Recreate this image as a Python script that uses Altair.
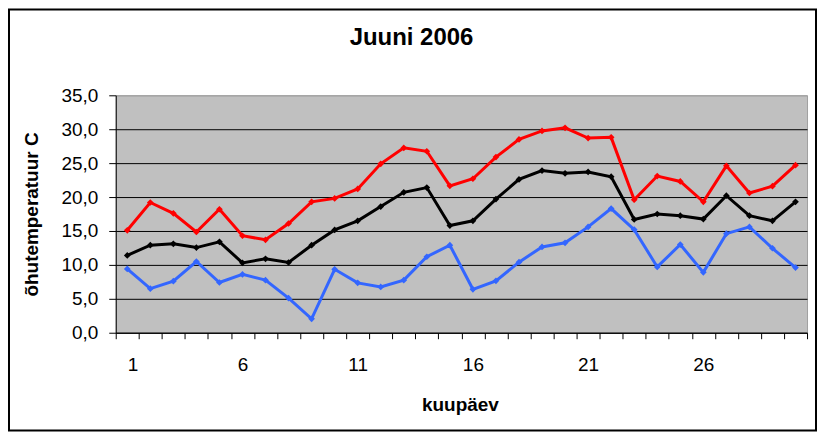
import altair as alt
import pandas as pd

days = list(range(1, 31))
t_max = [15.1, 19.2, 17.6, 14.85, 18.2, 14.3, 13.7, 16.1, 19.3, 19.8,
         21.2, 24.9, 27.25, 26.75, 21.65, 22.7, 25.9, 28.5, 29.75, 30.2,
         28.7, 28.8, 19.6, 23.1, 22.3, 19.3, 24.6, 20.6, 21.6, 24.7]
t_avg = [11.4, 12.9, 13.1, 12.55, 13.4, 10.3, 10.9, 10.35, 12.9, 15.15,
         16.5, 18.6, 20.7, 21.4, 15.8, 16.5, 19.7, 22.6, 23.9, 23.5,
         23.7, 23.0, 16.7, 17.5, 17.25, 16.75, 20.2, 17.25, 16.5, 19.3]
t_min = [9.4, 6.5, 7.6, 10.5, 7.4, 8.6, 7.75, 5.1, 2.05, 9.35,
         7.35, 6.75, 7.75, 11.2, 12.9, 6.4, 7.65, 10.4, 12.65, 13.25,
         15.6, 18.3, 15.2, 9.7, 13.0, 8.9, 14.6, 15.6, 12.45, 9.6]
series_names = ["max", "keskmine", "min"]
series_colors = ["#FF0000", "#000000", "#3366FF"]
y_ticks = [0, 5, 10, 15, 20, 25, 30, 35]
x_tick_values = [d - 0.5 for d in days] + [30.5]

rows = []
for name, vals in zip(series_names, [t_max, t_avg, t_min]):
    for d, v in zip(days, vals):
        rows.append({"kuupäev": d, "temp": v, "seeria": name})
df = pd.DataFrame(rows)

FONT = "Liberation Sans"

lines = alt.Chart(df).mark_line(
    strokeWidth=3,
    point=alt.OverlayMarkDef(shape="diamond", size=45, filled=True),
).encode(
    x=alt.X(
        "kuupäev:Q",
        scale=alt.Scale(domain=[0.5, 30.5], nice=False, zero=False),
        axis=alt.Axis(
            values=x_tick_values,
            labelExpr="((datum.value - 0.5) % 5 == 0 && datum.value < 30) ? format(datum.value + 0.5, 'd') : ''",
            labelOffset=11.55,
            labelOverlap=False,
            labelFontSize=19,
            labelFont=FONT,
            labelColor="black",
            labelPadding=17,
            tickSize=6,
            tickColor="black",
            domainColor="black",
            grid=False,
            title="kuupäev",
            titleFont=FONT,
            titleFontSize=19,
            titleFontWeight="bold",
            titleColor="black",
            titleX=345,
            titleY=72,
            titleBaseline="middle",
        ),
    ),
    y=alt.Y(
        "temp:Q",
        scale=alt.Scale(domain=[0, 35], nice=False),
        axis=alt.Axis(
            values=y_ticks,
            labelExpr="replace(format(datum.value, '.1f'), '.', ',')",
            labelFontSize=19,
            labelFont=FONT,
            labelColor="black",
            labelPadding=11,
            tickSize=7,
            tickColor="black",
            domainColor="black",
            gridColor={"condition": {"test": "datum.value == 35", "value": "#A0A0A0"}, "value": "black"},
            gridOpacity=1,
            title="õhutemperatuur C",
            titleFont=FONT,
            titleFontSize=19,
            titleFontWeight="bold",
            titleColor="black",
            titleAngle=270,
            titleX=-84,
            titleY=119,
            titleBaseline="middle",
        ),
    ),
    color=alt.Color(
        "seeria:N",
        scale=alt.Scale(domain=series_names, range=series_colors),
        legend=None,
    ),
    detail="seeria:N",
)

frame = alt.Chart(pd.DataFrame({"a": [0]})).mark_rect(
    fillOpacity=0, stroke="black", strokeWidth=2
).encode(
    x=alt.value(-107), x2=alt.value(702), y=alt.value(-86), y2=alt.value(336)
)

chart = alt.layer(lines, frame).properties(
    width=693,
    height=238,
    autosize=alt.AutoSizeParams(type="none"),
    padding={"left": 108, "top": 87, "right": 10, "bottom": 100},
    background="white",
    title=alt.Title(
        "Juuni 2006",
        font=FONT,
        fontSize=24,
        fontWeight="bold",
        color="black",
        anchor="middle",
        frame="group",
        dx=-50,
        offset=0,
        dy=66,
        baseline="bottom",
    ),
).configure_view(
    fill="#C0C0C0", stroke="#A0A0A0", strokeWidth=1
)

chart.save("out.html", embed_options={"renderer": "svg", "actions": False})
